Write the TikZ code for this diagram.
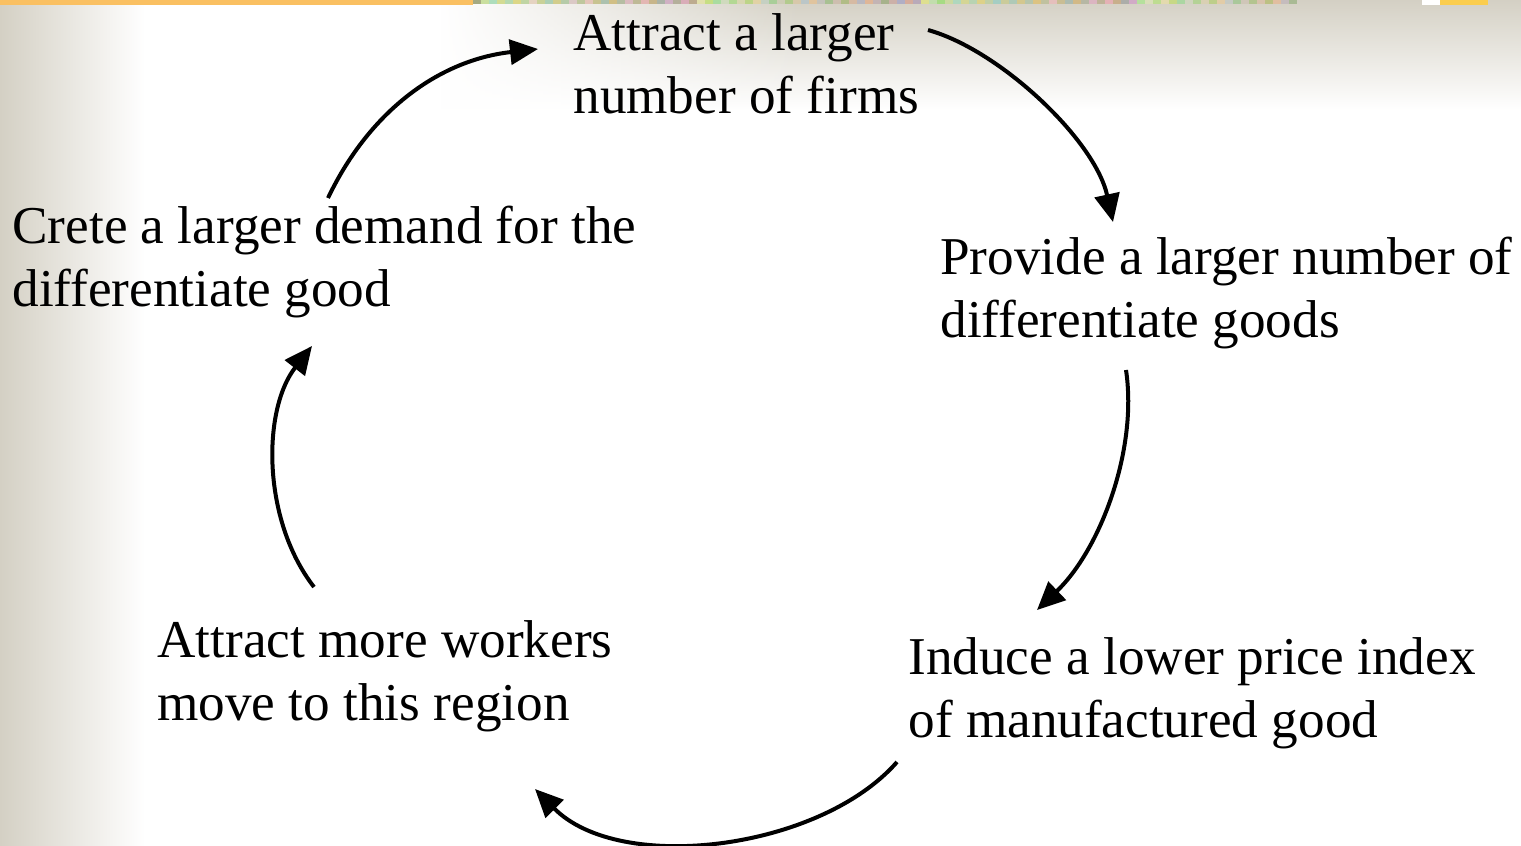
\documentclass[tikz,border=0pt]{standalone}
\usepackage{fontspec}
\setmainfont{Liberation Serif}
\usetikzlibrary{arrows.meta,fadings}
\definecolor{bgA}{RGB}{212,208,196}
\definecolor{bgB}{RGB}{234,232,225}
\definecolor{barorange}{RGB}{250,192,98}
\tikzfading[name=fadeleft, left color=transparent!100, right color=transparent!0]
\begin{document}
\begin{tikzpicture}[x=0.5pt,y=-0.5pt,
  lbl/.style={anchor=base west, inner sep=0pt, align=left, font=\fontsize{26.6}{31.5}\selectfont},
  cyc/.style={line width=2pt, -{Triangle[length=14pt,width=12.5pt]}}]
\useasboundingbox (0,0) rectangle (1521,846);
\fill[white] (0,0) rectangle (1521,846);
% background gradients
\shade[left color=bgA, middle color=bgB, right color=white] (0,0) rectangle (145,846);
\shade[top color=bgA, bottom color=white] (800,0) rectangle (1521,110);
\shade[top color=bgA, bottom color=white, path fading=fadeleft] (440,0) rectangle (800.5,110);
% top decorations
\fill[barorange] (0,0) rectangle (473,5);
\foreach \k in {0,...,102} {
  \pgfmathsetmacro\nzr{int(165+mod(\k*37,65))}
  \pgfmathsetmacro\nzg{int(170+mod(\k*53,55))}
  \pgfmathsetmacro\nzb{int(130+mod(\k*29,70))}
  \definecolor{nz}{RGB}{\nzr,\nzg,\nzb}
  \fill[nz] (473+\k*8,0) rectangle ++(8,4);
}
\fill[white] (1422,0) rectangle (1440,5);
\fill[barorange!80!yellow] (1440,0) rectangle (1488,5);
% texts (anchor = baseline of the last line)
\node[lbl] (firms) at (573,113) {Attract a larger\\number of firms};
\node[lbl] (goods) at (940,337) {Provide a larger number of\\differentiate goods};
\node[lbl] (price) at (908,737) {Induce a lower price index\\of manufactured good};
\node[lbl] (workers) at (157,720) {Attract more workers\\move to this region};
\node[lbl] (demand) at (12,306) {Crete a larger demand for the\\differentiate good};
% arrow end points
\coordinate (a1s) at (328,198); \coordinate (a1e) at (538,49);
\coordinate (a2s) at (928,30);  \coordinate (a2e) at (1113,222);
\coordinate (a3s) at (1126,370); \coordinate (a3e) at (1037,610);
\coordinate (a4s) at (897,762); \coordinate (a4e) at (535,789);
\coordinate (a5s) at (314,587); \coordinate (a5e) at (312,346);
\draw[cyc] (a1s) .. controls (370,110) and (440,60) .. (a1e);
\draw[cyc] (a2s) .. controls (1000,50) and (1095,140) .. (a2e);
\draw[cyc] (a3s) .. controls (1138,450) and (1100,550) .. (a3e);
\draw[cyc] (a4s) .. controls (820,850) and (620,875) .. (a4e);
\draw[cyc] (a5s) .. controls (262,520) and (262,410) .. (a5e);
\end{tikzpicture}
\end{document}
